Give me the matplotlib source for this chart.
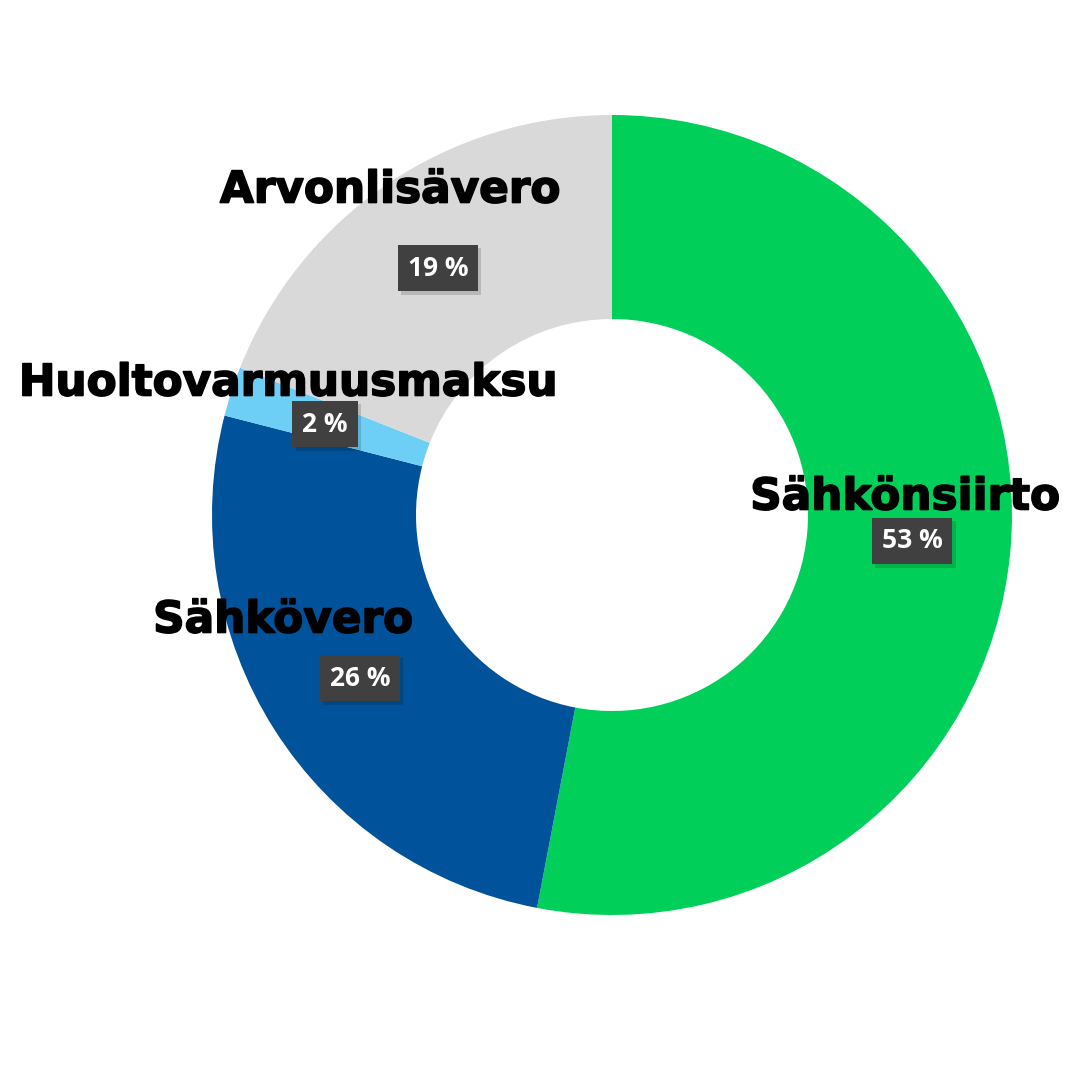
import matplotlib
matplotlib.use("Agg")
import matplotlib.pyplot as plt
import matplotlib.patheffects as pe

categories = ["Sähkönsiirto", "Sähkövero", "Huoltovarmuusmaksu", "Arvonlisävero"]
values = [53, 26, 2, 19]
colors = ["#00D05A", "#00539B", "#6DCFF6", "#D9D9D9"]

H = 1080
fig = plt.figure(figsize=(10.8, 10.8), dpi=100)
ax = fig.add_axes([0, 0, 1, 1])

ax.pie(values, colors=colors, startangle=90, counterclock=False,
       center=(612, H - 515), radius=400, frame=True,
       wedgeprops=dict(width=400 * 0.51, edgecolor="none"))
ax.set_xlim(0, 1080)
ax.set_ylim(0, H)
ax.set_aspect("equal")
ax.axis("off")

name_pos = [(905, 497), (283, 620), (288, 383), (390, 190)]
pct_pos = [(912, 541), (360, 678), (325, 424), (438, 268)]

for cat, v, (nx, ny), (px, py) in zip(categories, values, name_pos, pct_pos):
    ax.text(nx, H - ny, cat, ha="center", va="center", fontsize=31.5,
            fontweight="bold", family=["DejaVu Sans"], color="black",
            path_effects=[pe.withStroke(linewidth=1.2, foreground="black")])
    t = ax.text(px, H - py, f"{v} %", ha="center", va="center", fontsize=19,
                fontweight="bold", family=["Open Sans", "DejaVu Sans"], color="white",
                bbox=dict(boxstyle="square,pad=0.37", facecolor="#404040", edgecolor="none"))
    t.get_bbox_patch().set_path_effects(
        [pe.SimplePatchShadow(offset=(2.5, -2.5), shadow_rgbFace="#000000", alpha=0.15), pe.Normal()])

fig.savefig("out.png", dpi=100, facecolor="white")
